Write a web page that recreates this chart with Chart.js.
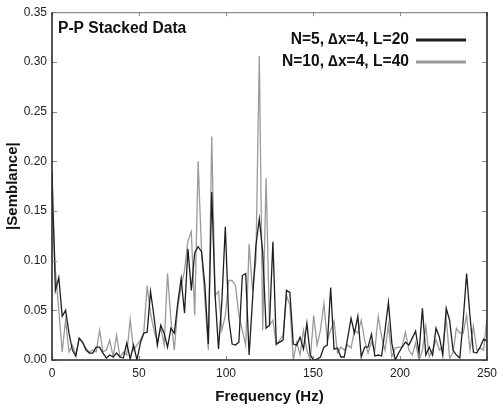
<!DOCTYPE html>
<html>
<head>
<meta charset="utf-8">
<script src="https://cdn.jsdelivr.net/npm/chart.js@4/dist/chart.umd.min.js"></script>
<style>
  html, body { margin: 0; padding: 0; background: #fff; }
  #wrap { width: 503px; height: 409px; }
</style>
</head>
<body>
<div id="wrap"><canvas id="semblance"></canvas></div>
<script>
// frequency grid: 129 samples from 0 to 250 Hz
const freqStep = 250 / 128;
const xTicks = [0, 50, 100, 150, 200, 250];
const yTicks = [0, 0.05, 0.10, 0.15, 0.20, 0.25, 0.30, 0.35];
const chartTitle = 'P-P Stacked Data';
const seriesNames = ['N=5, \u2206x=4, L=20', 'N=10, \u2206x=4, L=40'];

const semblanceN5 = [
  0.19, 0.07, 0.083, 0.044, 0.05, 0.027, 0.01, 0.004, 0.022, 0.018,
  0.01, 0.007, 0.007, 0.013, 0.013, 0.007, 0.002, 0.005, 0.003, 0.007,
  0.003, 0.002, 0.017, 0.001, 0.015, 0.0, 0.017, 0.027, 0.028, 0.069,
  0.044, 0.015, 0.035, 0.027, 0.013, 0.032, 0.027, 0.057, 0.082, 0.047,
  0.112, 0.07, 0.108, 0.114, 0.109, 0.075, 0.016, 0.169, 0.065, 0.011,
  0.06, 0.134, 0.042, 0.016, 0.015, 0.018, 0.085, 0.087, 0.005, 0.06,
  0.115, 0.142, 0.109, 0.032, 0.035, 0.119, 0.016, 0.018, 0.02, 0.07,
  0.068, 0.016, 0.015, 0.023, 0.011, 0.037, 0.005, 0.0, 0.001, 0.003,
  0.013, 0.015, 0.073, 0.011, 0.012, 0.003, 0.003, 0.022, 0.042, 0.027,
  0.044, 0.003, 0.013, 0.013, 0.026, 0.004, 0.005, 0.004, 0.03, 0.058,
  0.017, 0.0, 0.007, 0.013, 0.018, 0.015, 0.022, 0.029, 0.007, 0.052,
  0.005, 0.013, 0.005, 0.032, 0.023, 0.005, 0.052, 0.04, 0.01, 0.005,
  0.002, 0.04, 0.087, 0.044, 0.008, 0.007, 0.013, 0.021, 0.019
];

const semblanceN10 = [
  0.165, 0.09, 0.05, 0.008, 0.04, 0.008, 0.015, 0.005, 0.022, 0.017,
  0.012, 0.008, 0.01, 0.008, 0.03, 0.008, 0.01, 0.02, 0.003, 0.025,
  0.003, 0.008, 0.005, 0.041, 0.01, 0.015, 0.02, 0.027, 0.075, 0.047,
  0.03, 0.018, 0.033, 0.015, 0.087, 0.04, 0.01, 0.053, 0.074, 0.09,
  0.12, 0.129, 0.045, 0.2, 0.11, 0.06, 0.01, 0.225, 0.065, 0.069,
  0.03, 0.045, 0.08, 0.08, 0.075, 0.045, 0.03, 0.015, 0.117, 0.07,
  0.1, 0.306, 0.03, 0.183, 0.035, 0.04, 0.015, 0.02, 0.025, 0.065,
  0.055, 0.0, 0.018, 0.005, 0.03, 0.01, 0.0, 0.045, 0.015, 0.03,
  0.057, 0.02, 0.03, 0.039, 0.007, 0.013, 0.01, 0.015, 0.012, 0.03,
  0.027, 0.04, 0.02, 0.007, 0.018, 0.01, 0.044, 0.023, 0.01, 0.035,
  0.003, 0.012, 0.013, 0.013, 0.028, 0.01, 0.005, 0.017, 0.0, 0.01,
  0.034, 0.003, 0.01, 0.02, 0.01, 0.013, 0.042, 0.002, 0.007, 0.032,
  0.027, 0.027, 0.045, 0.01, 0.034, 0.01, 0.012, 0.01, 0.042
];

const lineColors = ['#1e1e1e', '#9a9a9a'];
const fontFamily = '"Liberation Sans", Arial, sans-serif';

function toPoints(values) {
  return values.map((v, i) => ({ x: i * freqStep, y: v }));
}

// axis box, inward ticks, title and legend inside the plot
const framePlugin = {
  id: 'frame',
  afterDraw(chart) {
    const { ctx, chartArea: a, scales } = chart;
    ctx.save();
    ctx.strokeStyle = '#8a8a8a';
    ctx.lineWidth = 1;
    xTicks.forEach(t => {
      const px = Math.round(scales.x.getPixelForValue(t)) + 0.5;
      ctx.beginPath();
      ctx.moveTo(px, a.bottom); ctx.lineTo(px, a.bottom - 4);
      ctx.moveTo(px, a.top); ctx.lineTo(px, a.top + 4);
      ctx.stroke();
    });
    yTicks.forEach(t => {
      const py = Math.round(scales.y.getPixelForValue(t)) + 0.5;
      ctx.beginPath();
      ctx.moveTo(a.left, py); ctx.lineTo(a.left + 5, py);
      ctx.moveTo(a.right, py); ctx.lineTo(a.right - 5, py);
      ctx.stroke();
    });

    ctx.strokeStyle = '#777';
    ctx.beginPath();
    ctx.moveTo(a.left, a.top + 0.5); ctx.lineTo(a.right, a.top + 0.5);
    ctx.stroke();
    ctx.strokeStyle = '#2a2a2a';
    ctx.lineWidth = 1.6;
    ctx.beginPath();
    ctx.moveTo(a.left, a.top); ctx.lineTo(a.left, a.bottom);
    ctx.lineTo(a.right, a.bottom); ctx.lineTo(a.right, a.top);
    ctx.stroke();

    ctx.fillStyle = '#111';
    ctx.font = 'bold 15.6px ' + fontFamily;
    ctx.textBaseline = 'middle';
    ctx.textAlign = 'left';
    ctx.fillText(chartTitle, a.left + 6, 29);

    ctx.textAlign = 'right';
    chart.data.datasets.forEach((ds, i) => {
      const y = 40 + i * 22;
      ctx.fillText(ds.label, 409, y);
      ctx.strokeStyle = ds.borderColor;
      ctx.lineWidth = 3;
      ctx.beginPath();
      ctx.moveTo(416, y); ctx.lineTo(466, y);
      ctx.stroke();
    });
    ctx.restore();
  }
};

new Chart(document.getElementById('semblance').getContext('2d'), {
  type: 'line',
  data: {
    datasets: [
      { label: seriesNames[0], data: toPoints(semblanceN5), borderColor: lineColors[0], borderWidth: 1.3 },
      { label: seriesNames[1], data: toPoints(semblanceN10), borderColor: lineColors[1], borderWidth: 1.3 }
    ]
  },
  options: {
    responsive: true,
    maintainAspectRatio: false,
    animation: false,
    layout: { padding: { top: 12, right: 9, left: 0, bottom: 0 } },
    elements: { point: { radius: 0 }, line: { tension: 0 } },
    plugins: { legend: { display: false }, tooltip: { enabled: false } },
    scales: {
      x: {
        type: 'linear',
        min: 0,
        max: 250,
        afterBuildTicks: s => { s.ticks = xTicks.map(v => ({ value: v })); },
        afterFit: s => { s.height = 49; },
        grid: { display: false, drawTicks: false, tickLength: 0 },
        border: { display: false },
        ticks: { padding: 6, color: '#222', font: { size: 12, family: fontFamily } },
        title: {
          display: true,
          text: 'Frequency (Hz)',
          color: '#111',
          padding: { top: 0, bottom: 3 },
          font: { size: 15, weight: 'bold', family: fontFamily }
        }
      },
      y: {
        min: 0,
        max: 0.35,
        afterBuildTicks: s => { s.ticks = yTicks.map(v => ({ value: v })); },
        afterFit: s => { s.width = 52; },
        grid: { display: false, drawTicks: false, tickLength: 0 },
        border: { display: false },
        ticks: {
          padding: 5,
          color: '#222',
          font: { size: 12, family: fontFamily },
          callback: v => Number(v).toFixed(2)
        },
        title: {
          display: true,
          text: '|Semblance|',
          color: '#111',
          padding: { top: 4, bottom: 0 },
          font: { size: 15, weight: 'bold', family: fontFamily }
        }
      }
    }
  },
  plugins: [framePlugin]
});
</script>
</body>
</html>
